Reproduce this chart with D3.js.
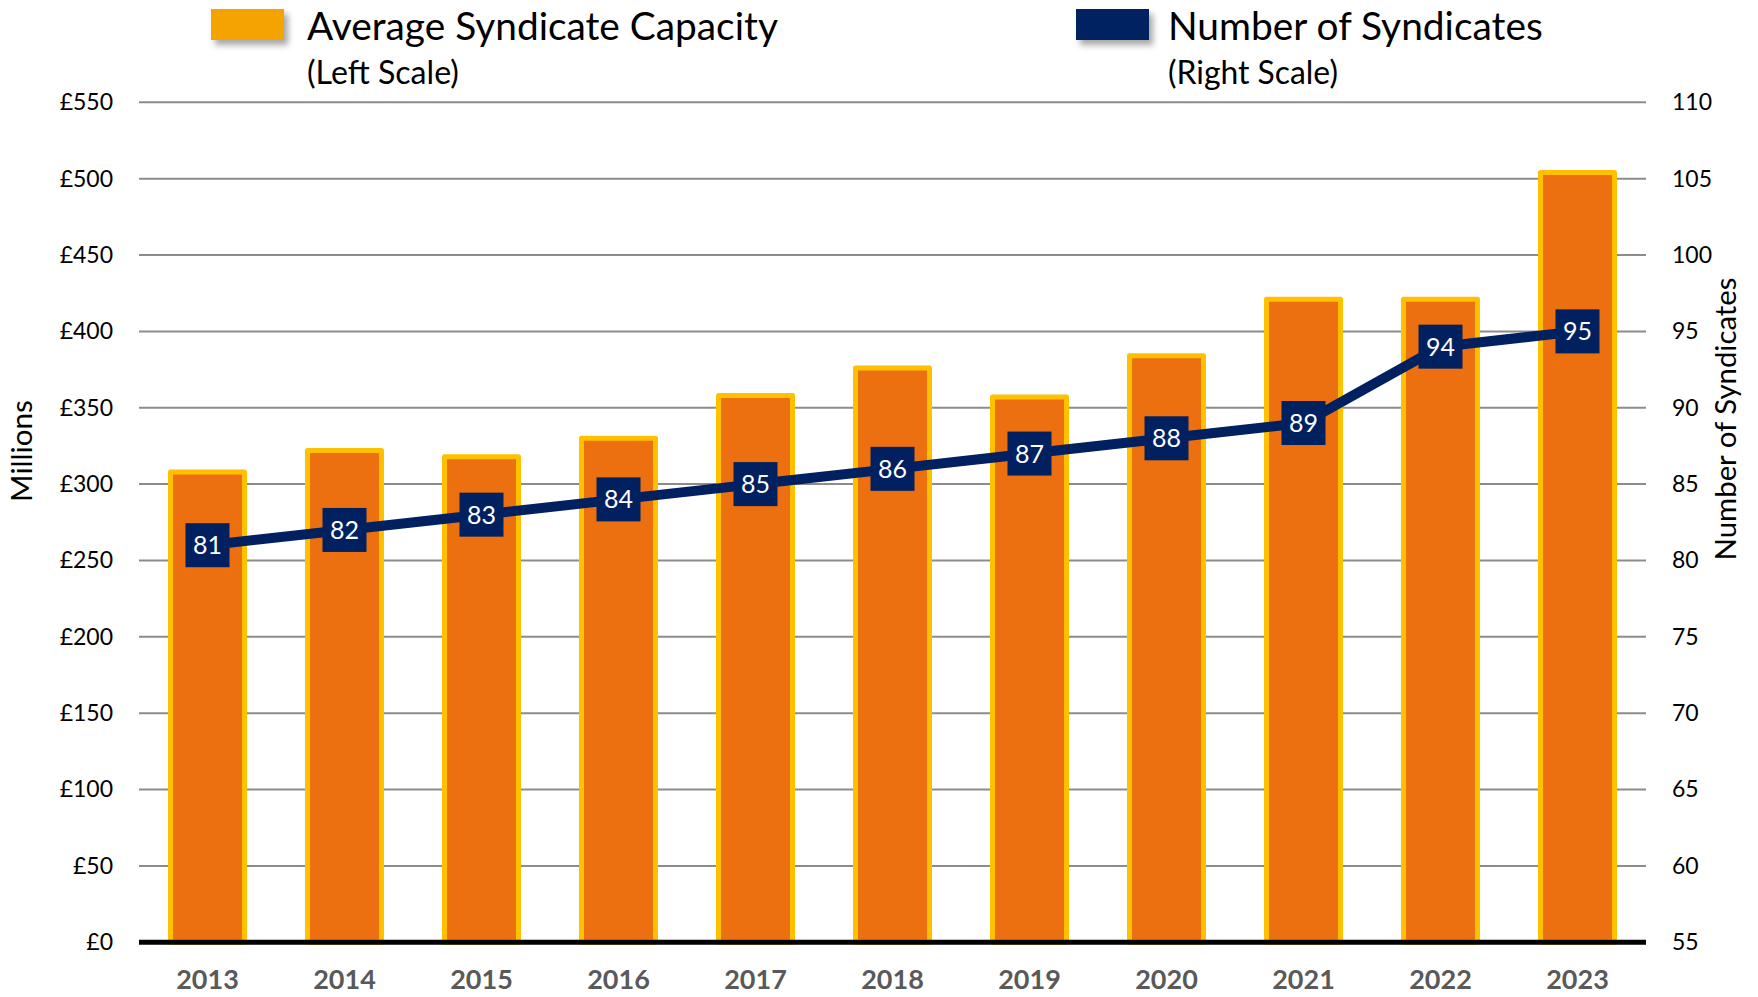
<!DOCTYPE html>
<html>
<head>
<meta charset="utf-8">
<script src="https://cdn.jsdelivr.net/npm/d3@7"></script>
<style>
  html, body { margin: 0; padding: 0; background: #ffffff; }
  svg { display: block; }
  text { font-family: Lato, "Open Sans", "Noto Sans", sans-serif; }
</style>
</head>
<body>
<svg id="chart" width="1758" height="997"></svg>
<script>
// ---- data ----
const years = ["2013","2014","2015","2016","2017","2018","2019","2020","2021","2022","2023"];
const avgCapacity = [308, 322, 318, 330, 358, 376, 357, 384, 421, 421, 504];   // £ millions (left scale)
const numSyndicates = [81, 82, 83, 84, 85, 86, 87, 88, 89, 94, 95];           // right scale
const leftTicks = [0, 50, 100, 150, 200, 250, 300, 350, 400, 450, 500, 550];
const rightTicks = [55, 60, 65, 70, 75, 80, 85, 90, 95, 100, 105, 110];
const seriesNames = ["Average Syndicate Capacity", "Number of Syndicates"];
const seriesNotes = ["(Left Scale)", "(Right Scale)"];
const axisTitles = ["Millions", "Number of Syndicates"];

// ---- layout ----
const W = 1758, H = 997;
const plot = { left: 139, right: 1646, top: 102.3, bottom: 942.3 };
const svg = d3.select("#chart");

const defs = svg.append("defs");
const f = defs.append("filter").attr("id", "shadow").attr("x", "-30%").attr("y", "-30%").attr("width", "170%").attr("height", "180%");
f.append("feDropShadow").attr("dx", 4).attr("dy", 5).attr("stdDeviation", 3).attr("flood-color", "#000").attr("flood-opacity", 0.35);

const x = d3.scaleBand().domain(years).range([plot.left, plot.right]).paddingInner(0.46).paddingOuter(0.23);
const yL = d3.scaleLinear().domain([0, 550]).range([plot.bottom, plot.top]);
const yR = d3.scaleLinear().domain([55, 110]).range([plot.bottom, plot.top]);

// gridlines
svg.append("g").selectAll("line").data(leftTicks.filter(d => d > 0)).join("line")
  .attr("x1", plot.left).attr("x2", plot.right)
  .attr("y1", d => yL(d)).attr("y2", d => yL(d))
  .attr("stroke", "#8c8c8c").attr("stroke-width", 2);

// left axis
const gL = svg.append("g").attr("transform", `translate(${plot.left},0)`)
  .call(d3.axisLeft(yL).tickValues(leftTicks).tickFormat(d => "£" + d).tickSize(0).tickPadding(26));
gL.select(".domain").remove();
gL.selectAll("text").attr("font-size", 23).attr("fill", "#000").attr("font-family", "Lato, 'Open Sans', sans-serif");

// right axis
const gR = svg.append("g").attr("transform", `translate(${plot.right},0)`)
  .call(d3.axisRight(yR).tickValues(rightTicks).tickSize(0).tickPadding(26));
gR.select(".domain").remove();
gR.selectAll("text").attr("font-size", 23).attr("fill", "#000").attr("font-family", "Lato, 'Open Sans', sans-serif");

// bars
svg.append("g").selectAll("rect").data(years).join("rect")
  .attr("x", d => x(d))
  .attr("width", x.bandwidth())
  .attr("y", (d, i) => yL(avgCapacity[i]))
  .attr("height", (d, i) => yL(0) - yL(avgCapacity[i]))
  .attr("fill", "#ec7010")
  .attr("stroke", "#ffc000")
  .attr("stroke-width", 5)
  .attr("stroke-linejoin", "round");

// baseline
svg.append("line")
  .attr("x1", plot.left).attr("x2", plot.right)
  .attr("y1", yL(0)).attr("y2", yL(0))
  .attr("stroke", "#000").attr("stroke-width", 5);

// x axis labels
const gX = svg.append("g").attr("transform", `translate(0,${plot.bottom})`)
  .call(d3.axisBottom(x).tickSize(0).tickPadding(28));
gX.select(".domain").remove();
gX.selectAll("text").attr("font-size", 27).attr("font-weight", "bold").attr("fill", "#595959")
  .attr("font-family", "Lato, 'Open Sans', sans-serif");

// line series
const cx = d => x(d) + x.bandwidth() / 2;
const line = d3.line().x((d, i) => cx(years[i])).y(d => yR(d));
svg.append("path").datum(numSyndicates)
  .attr("d", line).attr("fill", "none").attr("stroke", "#002060").attr("stroke-width", 10)
  .attr("stroke-linejoin", "round");

const mk = svg.append("g").selectAll("g").data(numSyndicates).join("g")
  .attr("transform", (d, i) => `translate(${cx(years[i])},${yR(d)})`);
mk.append("rect").attr("x", -22).attr("y", -22).attr("width", 44).attr("height", 44).attr("fill", "#002060");
mk.append("text").text(d => d).attr("text-anchor", "middle").attr("dy", "0.36em")
  .attr("font-size", 25).attr("fill", "#ffffff");

// helper to fit text width
function fit(sel, target) {
  const w = sel.node().getComputedTextLength();
  const fs = parseFloat(sel.attr("font-size"));
  if (w > 0) sel.attr("font-size", fs * target / w);
  return sel;
}

// legend
const legendColors = ["#f5a300", "#002060"];
const legendX = [211, 1076];
const textX = [307, 1168];
const nameW = [471, 375];
const noteW = [152, 170];
seriesNames.forEach((name, i) => {
  svg.append("rect").attr("x", legendX[i]).attr("y", 9).attr("width", 73).attr("height", 31)
    .attr("fill", legendColors[i]).attr("filter", "url(#shadow)");
  fit(svg.append("text").attr("x", textX[i]).attr("y", 40).attr("font-size", 32).attr("fill", "#000").text(name), nameW[i]);
  fit(svg.append("text").attr("x", textX[i]).attr("y", 84).attr("font-size", 26).attr("fill", "#000").text(seriesNotes[i]), noteW[i]);
});

// axis titles
fit(svg.append("text").attr("transform", "translate(32,451) rotate(-90)").attr("text-anchor", "middle")
  .attr("font-size", 24).attr("fill", "#000").text(axisTitles[0]), 102);
fit(svg.append("text").attr("transform", "translate(1736,419) rotate(-90)").attr("text-anchor", "middle")
  .attr("font-size", 24).attr("fill", "#000").text(axisTitles[1]), 283);
</script>
</body>
</html>
